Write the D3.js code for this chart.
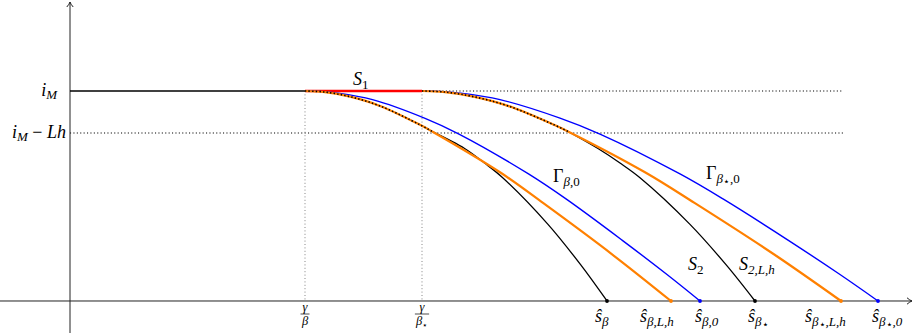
<!DOCTYPE html>
<html><head><meta charset="utf-8">
<script src="https://cdn.jsdelivr.net/npm/d3@7"></script>
</head>
<body style="margin:0;background:#fff">
<svg id="chart" width="914" height="333" style="display:block"></svg>
<script>
// ---------- data (s on horizontal axis, i on vertical axis) ----------
const gammaBeta = 2.35;      // γ/β
const gammaBetaStar = 3.52;  // γ/β⋆
const iM = 1.0;              // i_M
const iMLh = 0.8;            // i_M − Lh
const guideEnd = 7.73;       // end of dotted guides

const endLabels = ["β", "β,L,h", "β,0", "β⋆", "β⋆,L,h", "β⋆,0"];
const endValues = [5.37, 6.01, 6.30, 6.85, 7.71, 8.08];

const blackBeta = [[2.35,1],[2.55,0.995],[2.80,0.973],[3.10,0.929],[3.50,0.839],[3.63,0.805],[3.946,0.726],[4.145,0.657],[4.327,0.587],[4.78,0.365],[5.106,0.173],[5.37,0]];
const orangeBeta = [[2.35,1],[2.55,0.995],[2.80,0.973],[3.10,0.929],[3.50,0.839],[3.63,0.805],[4.30,0.613],[4.73,0.467],[5.43,0.219],[6.01,0]];
const blueBeta = [[2.35,1],[2.50,0.998],[2.68,0.990],[3.025,0.959],[3.545,0.871],[3.89,0.795],[4.585,0.605],[4.96,0.486],[5.52,0.290],[5.97,0.126],[6.30,0]];

const blackStar = [[3.52,1],[3.75,0.995],[4.035,0.973],[4.38,0.929],[4.84,0.839],[4.99,0.805],[5.28,0.726],[5.50,0.657],[5.70,0.587],[6.20,0.365],[6.56,0.173],[6.85,0]];
const orangeStar = [[3.52,1],[3.75,0.995],[4.035,0.973],[4.38,0.929],[4.84,0.839],[4.99,0.805],[5.75,0.613],[6.245,0.467],[7.05,0.219],[7.71,0]];
const blueStar = [[3.52,1],[3.70,0.998],[3.90,0.990],[4.30,0.959],[4.90,0.871],[5.30,0.795],[6.10,0.605],[6.53,0.486],[7.18,0.290],[7.70,0.126],[8.08,0]];

// ---------- layout ----------
const FONT = "Liberation Serif";
const svg = d3.select("#chart");
const x = d3.scaleLinear().domain([-0.70, 8.42]).range([0, 912]);
const y = d3.scaleLinear().domain([-0.1524, 1.4238]).range([333, 2]);

const BLUE = "#0000ff", ORANGE = "#ff8000", RED = "#ff0000", BLACK = "#000";
const line = d3.line().x(d => x(d[0])).y(d => y(d[1])).curve(d3.curveCatmullRom.alpha(0.5));

// guides
svg.append("line").attr("x1", x(0)).attr("x2", x(guideEnd)).attr("y1", y(iMLh)).attr("y2", y(iMLh))
  .attr("stroke", "#000").attr("stroke-width", 1.1).attr("stroke-dasharray", "1.1,2.3");
svg.append("line").attr("x1", x(gammaBetaStar)).attr("x2", x(guideEnd)).attr("y1", y(iM)).attr("y2", y(iM))
  .attr("stroke", "#000").attr("stroke-width", 1.1).attr("stroke-dasharray", "1.1,2.3");
[gammaBeta, gammaBetaStar].forEach(v => {
  svg.append("line").attr("x1", x(v)).attr("x2", x(v)).attr("y1", y(iM)).attr("y2", y(0))
    .attr("stroke", "#777").attr("stroke-width", 0.9).attr("stroke-dasharray", "1,2.4");
});

// axes
const axisColor = "#222";
svg.append("line").attr("x1", x(-0.70)).attr("x2", x(8.42)).attr("y1", y(0)).attr("y2", y(0))
  .attr("stroke", axisColor).attr("stroke-width", 1);
svg.append("line").attr("x1", x(0)).attr("x2", x(0)).attr("y1", y(-0.1524)).attr("y2", y(1.4238))
  .attr("stroke", axisColor).attr("stroke-width", 1);
const ax = x(8.42), ay = y(0);
svg.append("path").attr("d", `M${ax-5},${ay-3.2} Q${ax-2},${ay-0.6} ${ax},${ay} Q${ax-2},${ay+0.6} ${ax-5},${ay+3.2}`)
  .attr("fill", "none").attr("stroke", axisColor).attr("stroke-width", 1);
const bx = x(0), by = y(1.4238);
svg.append("path").attr("d", `M${bx-3.2},${by+5} Q${bx-0.6},${by+2} ${bx},${by} Q${bx+0.6},${by+2} ${bx+3.2},${by+5}`)
  .attr("fill", "none").attr("stroke", axisColor).attr("stroke-width", 1);

// horizontal plateau
svg.append("line").attr("x1", x(0)).attr("x2", x(gammaBeta)).attr("y1", y(iM)).attr("y2", y(iM))
  .attr("stroke", BLACK).attr("stroke-width", 1.3);
svg.append("line").attr("x1", x(gammaBeta)).attr("x2", x(gammaBetaStar)).attr("y1", y(iM)).attr("y2", y(iM))
  .attr("stroke", RED).attr("stroke-width", 2.6);

// curves
function splitIdx(pts){ return pts.findIndex(p => p[1] < iMLh); }
[blueBeta, blueStar].forEach(p => svg.append("path").attr("d", line(p)).attr("fill","none").attr("stroke",BLUE).attr("stroke-width",1.4));
[blackBeta, blackStar].forEach(p => {
  const k = splitIdx(p);
  svg.append("path").attr("d", line(p.slice(k-1))).attr("fill","none").attr("stroke",BLACK).attr("stroke-width",1.3);
});
[orangeBeta, orangeStar].forEach(p => svg.append("path").attr("d", line(p)).attr("fill","none").attr("stroke",ORANGE).attr("stroke-width",2.2));
[blackBeta, blackStar].forEach(p => {
  const k = splitIdx(p);
  svg.append("path").attr("d", line(p.slice(0, k))).attr("fill","none").attr("stroke",BLACK)
    .attr("stroke-width",1.6).attr("stroke-dasharray","1.4,2.2");
});

// end dots
const endColors = [BLACK, ORANGE, BLUE, BLACK, ORANGE, BLUE];
endValues.forEach((v, j) => {
  svg.append("circle").attr("cx", x(v)).attr("cy", y(0)).attr("r", 1.9).attr("fill", endColors[j]);
});

// ---------- math text helper: one <text> per run ----------
// parts: [text, level, italic]; level 0 main, 1 subscript, 2 sub-subscript
const SIZES = [18, 13, 11], SHIFT = [0, 3.5, 6];
function mathText(px, py, parts, anchor, base, shift) {
  const sizes = base || SIZES, sh = shift || SHIFT;
  const g = svg.append("g");
  let cx = 0;
  parts.forEach(([s, lvl, it]) => {
    const t = g.append("text").attr("x", cx).attr("y", sh[lvl])
      .attr("font-family", FONT).attr("font-size", sizes[lvl])
      .attr("font-style", it ? "italic" : "normal").attr("fill", "#000")
      .attr("xml:space", "preserve").style("white-space", "pre").text(s);
    cx += t.node().getComputedTextLength();
  });
  let off = 0;
  if (anchor === "end") off = -cx; else if (anchor === "middle") off = -cx / 2;
  g.attr("transform", `translate(${px + off},${py})`);
  return { g, width: cx, left: px + off };
}

// y labels
mathText(57, y(iM) + 5, [["i",0,true],["M",1,true]], "end");
mathText(66, y(iMLh) + 5, [["i",0,true],["M",1,true],[" − ",0,false],["Lh",0,true]], "end");

// fractions γ/β and γ/β⋆
function frac(v, star) {
  const cx = x(v);
  mathText(cx, 310.5, [["γ",0,true]], "middle", [12.5, 9, 7]);
  const parts = star ? [["β",0,true],["⋆",1,false]] : [["β",0,true]];
  const d = mathText(cx, 325, parts, "middle", [12.5, 9, 7], [0, 2.5, 4]);
  const w = Math.max(9, d.width + 2);
  svg.append("line").attr("x1", cx - w/2).attr("x2", cx + w/2).attr("y1", 314).attr("y2", 314)
    .attr("stroke", "#000").attr("stroke-width", 0.7);
}
frac(gammaBeta, false);
frac(gammaBetaStar, true);

// end labels (ŝ with subscripts)
const endLabelDx = [-12, -31, -5, -7, -36, -6];
endValues.forEach((v, j) => {
  const lab = endLabels[j];
  const parts = [["ŝ",0,true]];
  const m = lab.match(/^β(⋆?)(.*)$/);
  parts.push(["β",1,true]);
  if (m[1]) parts.push(["⋆",2,false]);
  if (m[2]) parts.push([m[2], 1, true]);
  mathText(x(v) + endLabelDx[j], 322, parts, "start");
});

// curve labels
mathText(353, 85, [["S",0,true],["1",1,false]]);
mathText(553, 182, [["Γ",0,false],["β",1,true],[",0",1,false]]);
mathText(706, 179, [["Γ",0,false],["β",1,true],["⋆",2,false],[",0",1,false]]);
mathText(688, 270, [["S",0,true],["2",1,false]]);
mathText(739, 270, [["S",0,true],["2,L,h",1,true]]);
</script>
</body></html>
